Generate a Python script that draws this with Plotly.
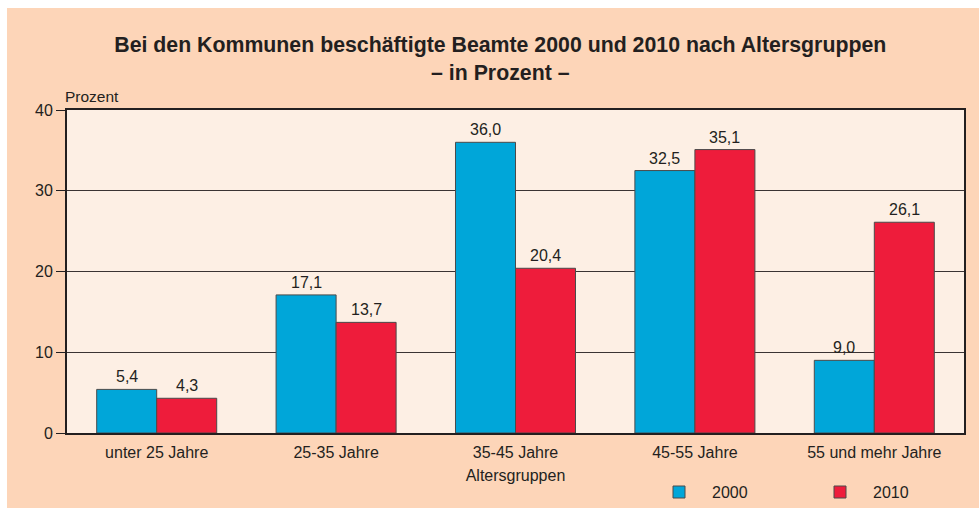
import plotly.graph_objects as go

categories = ["unter 25 Jahre", "25-35 Jahre", "35-45 Jahre", "45-55 Jahre", "55 und mehr Jahre"]
values_2000 = [5.4, 17.1, 36.0, 32.5, 9.0]
values_2010 = [4.3, 13.7, 20.4, 35.1, 26.1]
y_ticks = [0, 10, 20, 30, 40]

BLUE = "#00A6D9"
RED = "#EE1C3B"
PAPER = "#FDD5B8"
PLOTBG = "#FDEFE4"
TXT = "#231F20"
FONT = "Liberation Sans, Arial, sans-serif"

fig = go.Figure()
fig.add_trace(go.Bar(name="2000", x=categories, y=values_2000,
                     marker=dict(color=BLUE, line=dict(color="#4a4a4a", width=1))))
fig.add_trace(go.Bar(name="2010", x=categories, y=values_2010,
                     marker=dict(color=RED, line=dict(color="#4a4a4a", width=1))))

annotations = []
for vals, shift in ((values_2000, -30), (values_2010, 30)):
    for c, v in zip(categories, vals):
        annotations.append(dict(x=c, y=v, xref="x", yref="y", text=f"{v:.1f}".replace(".", ","),
                                showarrow=False, xshift=shift, yshift=2, yanchor="bottom",
                                font=dict(size=16, color=TXT, family=FONT)))
annotations.append(dict(x=-0.005, y=1.0, xref="paper", yref="paper", text="Prozent", showarrow=False,
                        xanchor="left", yanchor="bottom", yshift=3, font=dict(size=15.5, color=TXT, family=FONT)))

fig.update_layout(
    width=979, height=508,
    margin=dict(l=67, r=15, t=110, b=75, autoexpand=False),
    paper_bgcolor=PAPER, plot_bgcolor=PLOTBG,
    font=dict(family=FONT, color=TXT, size=16),
    title=dict(text="<b>Bei den Kommunen beschäftigte Beamte 2000 und 2010 nach Altersgruppen</b><br><b>– in Prozent –</b>",
               x=0.511, xanchor="center", y=0.897, yanchor="middle", font=dict(size=21.3, color=TXT, family=FONT)),
    barmode="group", bargap=0.331, bargroupgap=0,
    xaxis=dict(showline=True, linecolor=TXT, linewidth=2, mirror=True, ticks="", showgrid=False,
               tickfont=dict(size=16), ticklabelstandoff=4,
               title=dict(text="Altersgruppen", font=dict(size=16), standoff=10)),
    yaxis=dict(range=[0, 40], tickvals=y_ticks, showline=True, linecolor=TXT, linewidth=2, mirror=True,
               ticks="outside", ticklen=9, tickcolor=TXT, tickwidth=1, showgrid=True, gridcolor="#3b3333", gridwidth=1,
               tickfont=dict(size=16), zeroline=False, fixedrange=True),
    showlegend=True,
    legend=dict(orientation="h", x=0.6455, y=-0.183, xanchor="left", yanchor="middle",
                entrywidth=90, entrywidthmode="pixels", itemwidth=56,
                font=dict(size=16, color=TXT, family=FONT), bgcolor="rgba(0,0,0,0)"),
    annotations=annotations,
    shapes=[
        dict(type="rect", xref="paper", yref="paper", x0=-0.1, x1=-0.0669, y0=-0.3, y1=1.4,
             fillcolor="white", line=dict(width=0), layer="below"),
        dict(type="rect", xref="paper", yref="paper", x0=-0.1, x1=1.2, y0=1.3158, y1=1.4,
             fillcolor="white", line=dict(width=0), layer="below"),
    ],
)

fig.write_html("out.html", config={"displayModeBar": False},
               post_script="document.body.style.margin='0';document.body.style.padding='0';")
